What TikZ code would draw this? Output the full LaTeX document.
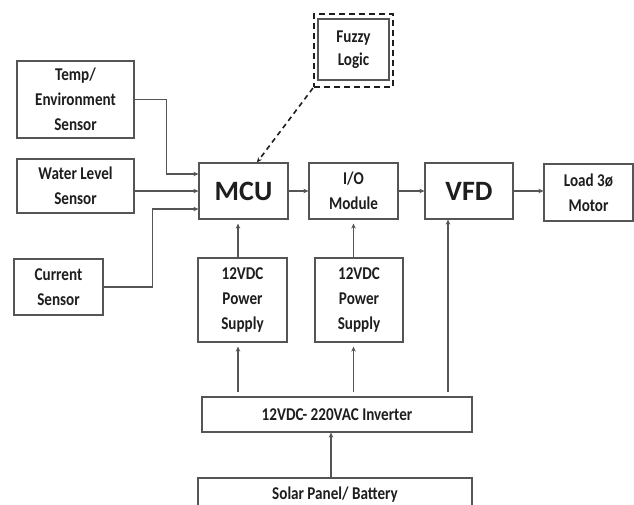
\documentclass[tikz,border=0pt]{standalone}
\usepackage{fontspec}
\setmainfont{Carlito}
\newfontfamily\narrowfont{Carlito}[FakeStretch=0.84]
\usetikzlibrary{arrows.meta}
\definecolor{ln}{HTML}{555555}
\definecolor{tx}{HTML}{1E1E1E}
\tikzset{
  blk/.style={draw=ln, line width=1.2pt, inner sep=0pt, align=center, text=tx,
    font=\narrowfont\bfseries\fontsize{18}{25}\selectfont},
  big/.style={font=\bfseries\fontsize{28}{30}\selectfont},
  arr/.style={draw=ln, line width=1.2pt, -{Stealth[length=5pt,width=4.5pt]}},
  gap/.style={shorten >=4pt},
}
\begin{document}
\begin{tikzpicture}[x=1pt,y=-1pt]
\useasboundingbox (0,0) rectangle (634,504);
\clip (0,0) rectangle (634,504);
\fill[white] (0,0) rectangle (634,504);
\node[blk, minimum width=117pt, minimum height=77pt] (temp) at (75.5,99.5) {Temp/\\Environment\\Sensor};
\node[blk, minimum width=117pt, minimum height=54pt] (water) at (75.5,186) {Water Level\\Sensor};
\node[blk, minimum width=89pt, minimum height=56pt] (current) at (58.5,287) {Current\\Sensor};
\node[blk, big, minimum width=89pt, minimum height=56pt] (mcu) at (243.5,191) {MCU};
\node[blk, minimum width=89pt, minimum height=56pt] (io) at (353.5,191) {I/O\\Module};
\node[blk, big, minimum width=88pt, minimum height=56pt] (vfd) at (469,191) {VFD};
\node[blk, minimum width=89pt, minimum height=57pt] (load) at (588.5,192.5) {Load 3ø\\Motor};
\node[blk, font=\narrowfont\bfseries\fontsize{18}{23}\selectfont, minimum width=71pt, minimum height=61pt] (fuzzy) at (353.5,49.5) {Fuzzy\\Logic};
\node[draw=tx, line width=2.2pt, dash pattern=on 6pt off 4pt, inner sep=0pt, minimum width=79pt, minimum height=73pt] (fuzzyo) at (353.5,50.5) {};
\node[blk, minimum width=89pt, minimum height=84pt] (ps1) at (242.5,300) {12VDC\\Power\\Supply};
\node[blk, minimum width=88pt, minimum height=84pt] (ps2) at (359,300) {12VDC\\Power\\Supply};
\node[blk, minimum width=270pt, minimum height=35pt] (inv) at (337,414.5) {12VDC- 220VAC Inverter};
\node[blk, minimum width=274pt, minimum height=34pt] (solar) at (335,495) {Solar Panel/ Battery};
% sensors to MCU
\draw[arr] (temp.east) -- ++(32,0) |- ([yshift=17pt]mcu.west);
\draw[arr] ([yshift=-5pt]water.east) -- (mcu.west);
\draw[arr] (current.east) -- ++(49,0) |- ([yshift=-18pt]mcu.west);
% fuzzy
\draw[arr, dashed, dash pattern=on 5pt off 4pt, line width=1.6pt, draw=tx] (fuzzyo.south west) -- ([xshift=13.5pt]mcu.north);
% chain
\draw[arr] (mcu.east) -- (io.west);
\draw[arr] (io.east) -- (vfd.west);
\draw[arr] (vfd.east) -- (vfd.east -| load.west);
% supplies
\draw[arr, gap] ([xshift=-5.5pt]mcu.south |- ps1.north) -- ([xshift=-5.5pt]mcu.south);
\draw[arr, gap] (io.south |- ps2.north) -- (io.south);
\draw[arr, gap, shorten <=4pt] ([xshift=-4.5pt]ps1.south |- inv.north) -- ([xshift=-4.5pt]ps1.south);
\draw[arr, gap, shorten <=4pt] (io.south |- inv.north) -- (io.south |- ps2.south);
\draw[arr, shorten <=4pt] ([xshift=-21pt]vfd.south |- inv.north) -- ([xshift=-21pt]vfd.south);
\draw[arr] ([xshift=-4pt]solar.north) -- ([xshift=-4pt]solar.north |- inv.south);
\end{tikzpicture}
\end{document}
